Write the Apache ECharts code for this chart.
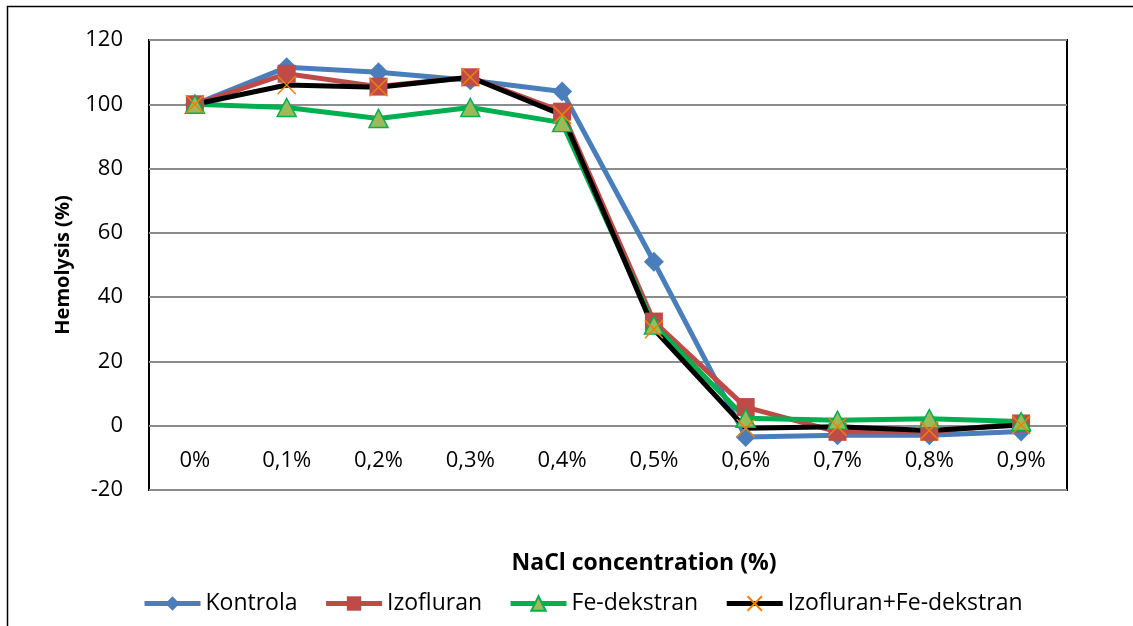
<!DOCTYPE html>
<html>
<head>
<meta charset="utf-8">
<script src="https://cdn.jsdelivr.net/npm/echarts@6/dist/echarts.min.js"></script>
<style>
html,body{margin:0;padding:0;background:#fff;}
#main{width:1133px;height:626px;}
</style>
</head>
<body>
<div id="main"></div>
<script>
const categories = ['0%', '0,1%', '0,2%', '0,3%', '0,4%', '0,5%', '0,6%', '0,7%', '0,8%', '0,9%'];
const kontrola = [100, 111.5, 110, 107.5, 104, 51, -3.5, -3, -3, -1.8];
const izofluran = [100, 109.5, 105.5, 108.4, 97.7, 32.4, 5.8, -1.9, -1.9, 0.7];
const feDekstran = [100, 99, 95.6, 99, 94.3, 31.3, 2.3, 1.7, 2.2, 1.3];
const izoFe = [100, 106, 105.3, 108.4, 96.7, 30, -0.8, -0.3, -1.5, 0.2];
const seriesNames = ['Kontrola', 'Izofluran', 'Fe-dekstran', 'Izofluran+Fe-dekstran'];
const yTicks = {min: -20, max: 120, interval: 20};

const FONT = '"Open Sans", "DejaVu Sans", sans-serif';
const chart = echarts.init(document.getElementById('main'), null, {renderer: 'canvas'});
const xPath = 'path://M0,0L10,10M10,0L0,10';

chart.setOption({
  animation: false,
  backgroundColor: '#ffffff',
  textStyle: {fontFamily: FONT},
  graphic: [{
    type: 'rect',
    shape: {x: 7.5, y: 6.5, width: 1140, height: 640},
    style: {fill: 'none', stroke: '#000', lineWidth: 1.5},
    silent: true, z: -10
  }],
  grid: {left: 149, top: 40, right: 66, bottom: 136, outerBoundsMode: 'none', containLabel: false,
    show: true, borderColor: '#000', borderWidth: 2, backgroundColor: 'transparent'},
  legend: {
    left: 142, top: 592, padding: 0,
    itemWidth: 56, itemHeight: 18, itemGap: 26,
    lineStyle: {width: 5},
    textStyle: {fontFamily: FONT, fontSize: 23, color: '#000'},
    data: seriesNames
  },
  xAxis: {
    type: 'category',
    data: categories,
    boundaryGap: true,
    offset: -64,
    axisLine: {show: false, onZero: false},
    axisTick: {show: false},
    axisLabel: {fontFamily: FONT, fontSize: 22, color: '#000', margin: 24},
    name: 'NaCl concentration (%)',
    nameLocation: 'middle',
    nameGap: 126,
    nameTextStyle: {fontFamily: FONT, fontSize: 23, fontWeight: 'bold', color: '#000', padding: [0, 0, 0, 72]},
    splitLine: {show: false}
  },
  yAxis: {
    type: 'value',
    min: yTicks.min, max: yTicks.max, interval: yTicks.interval,
    axisLine: {show: false},
    axisTick: {show: false},
    axisLabel: {fontFamily: FONT, fontSize: 22, color: '#000', margin: 26},
    splitLine: {show: true, lineStyle: {color: '#8c8c8c', width: 2}},
    name: 'Hemolysis (%)',
    nameLocation: 'middle',
    nameGap: 76,
    nameRotate: 90,
    nameTextStyle: {fontFamily: FONT, fontSize: 20, fontWeight: 'bold', color: '#000'}
  },
  series: [
    {
      name: seriesNames[0], type: 'line', data: kontrola,
      symbol: 'diamond', symbolSize: [20, 20],
      lineStyle: {color: '#4a7ebb', width: 5},
      itemStyle: {color: '#4a7ebb', borderColor: '#4a7ebb', borderWidth: 0}
    },
    {
      name: seriesNames[1], type: 'line', data: izofluran,
      symbol: 'rect', symbolSize: 18,
      lineStyle: {color: '#be4b48', width: 5},
      itemStyle: {color: '#be4b48', borderColor: '#be4b48', borderWidth: 0}
    },
    {
      name: seriesNames[2], type: 'line', data: feDekstran,
      symbol: 'triangle', symbolSize: [19, 18],
      lineStyle: {color: '#00b050', width: 5},
      itemStyle: {color: '#9bbb59', borderColor: '#00b050', borderWidth: 1.5}
    },
    {
      name: seriesNames[3], type: 'line', data: izoFe,
      symbol: xPath, symbolSize: 18,
      lineStyle: {color: '#000000', width: 5},
      itemStyle: {color: 'rgba(0,0,0,0)', borderColor: '#f07f09', borderWidth: 1.5}
    }
  ]
});
</script>
</body>
</html>
